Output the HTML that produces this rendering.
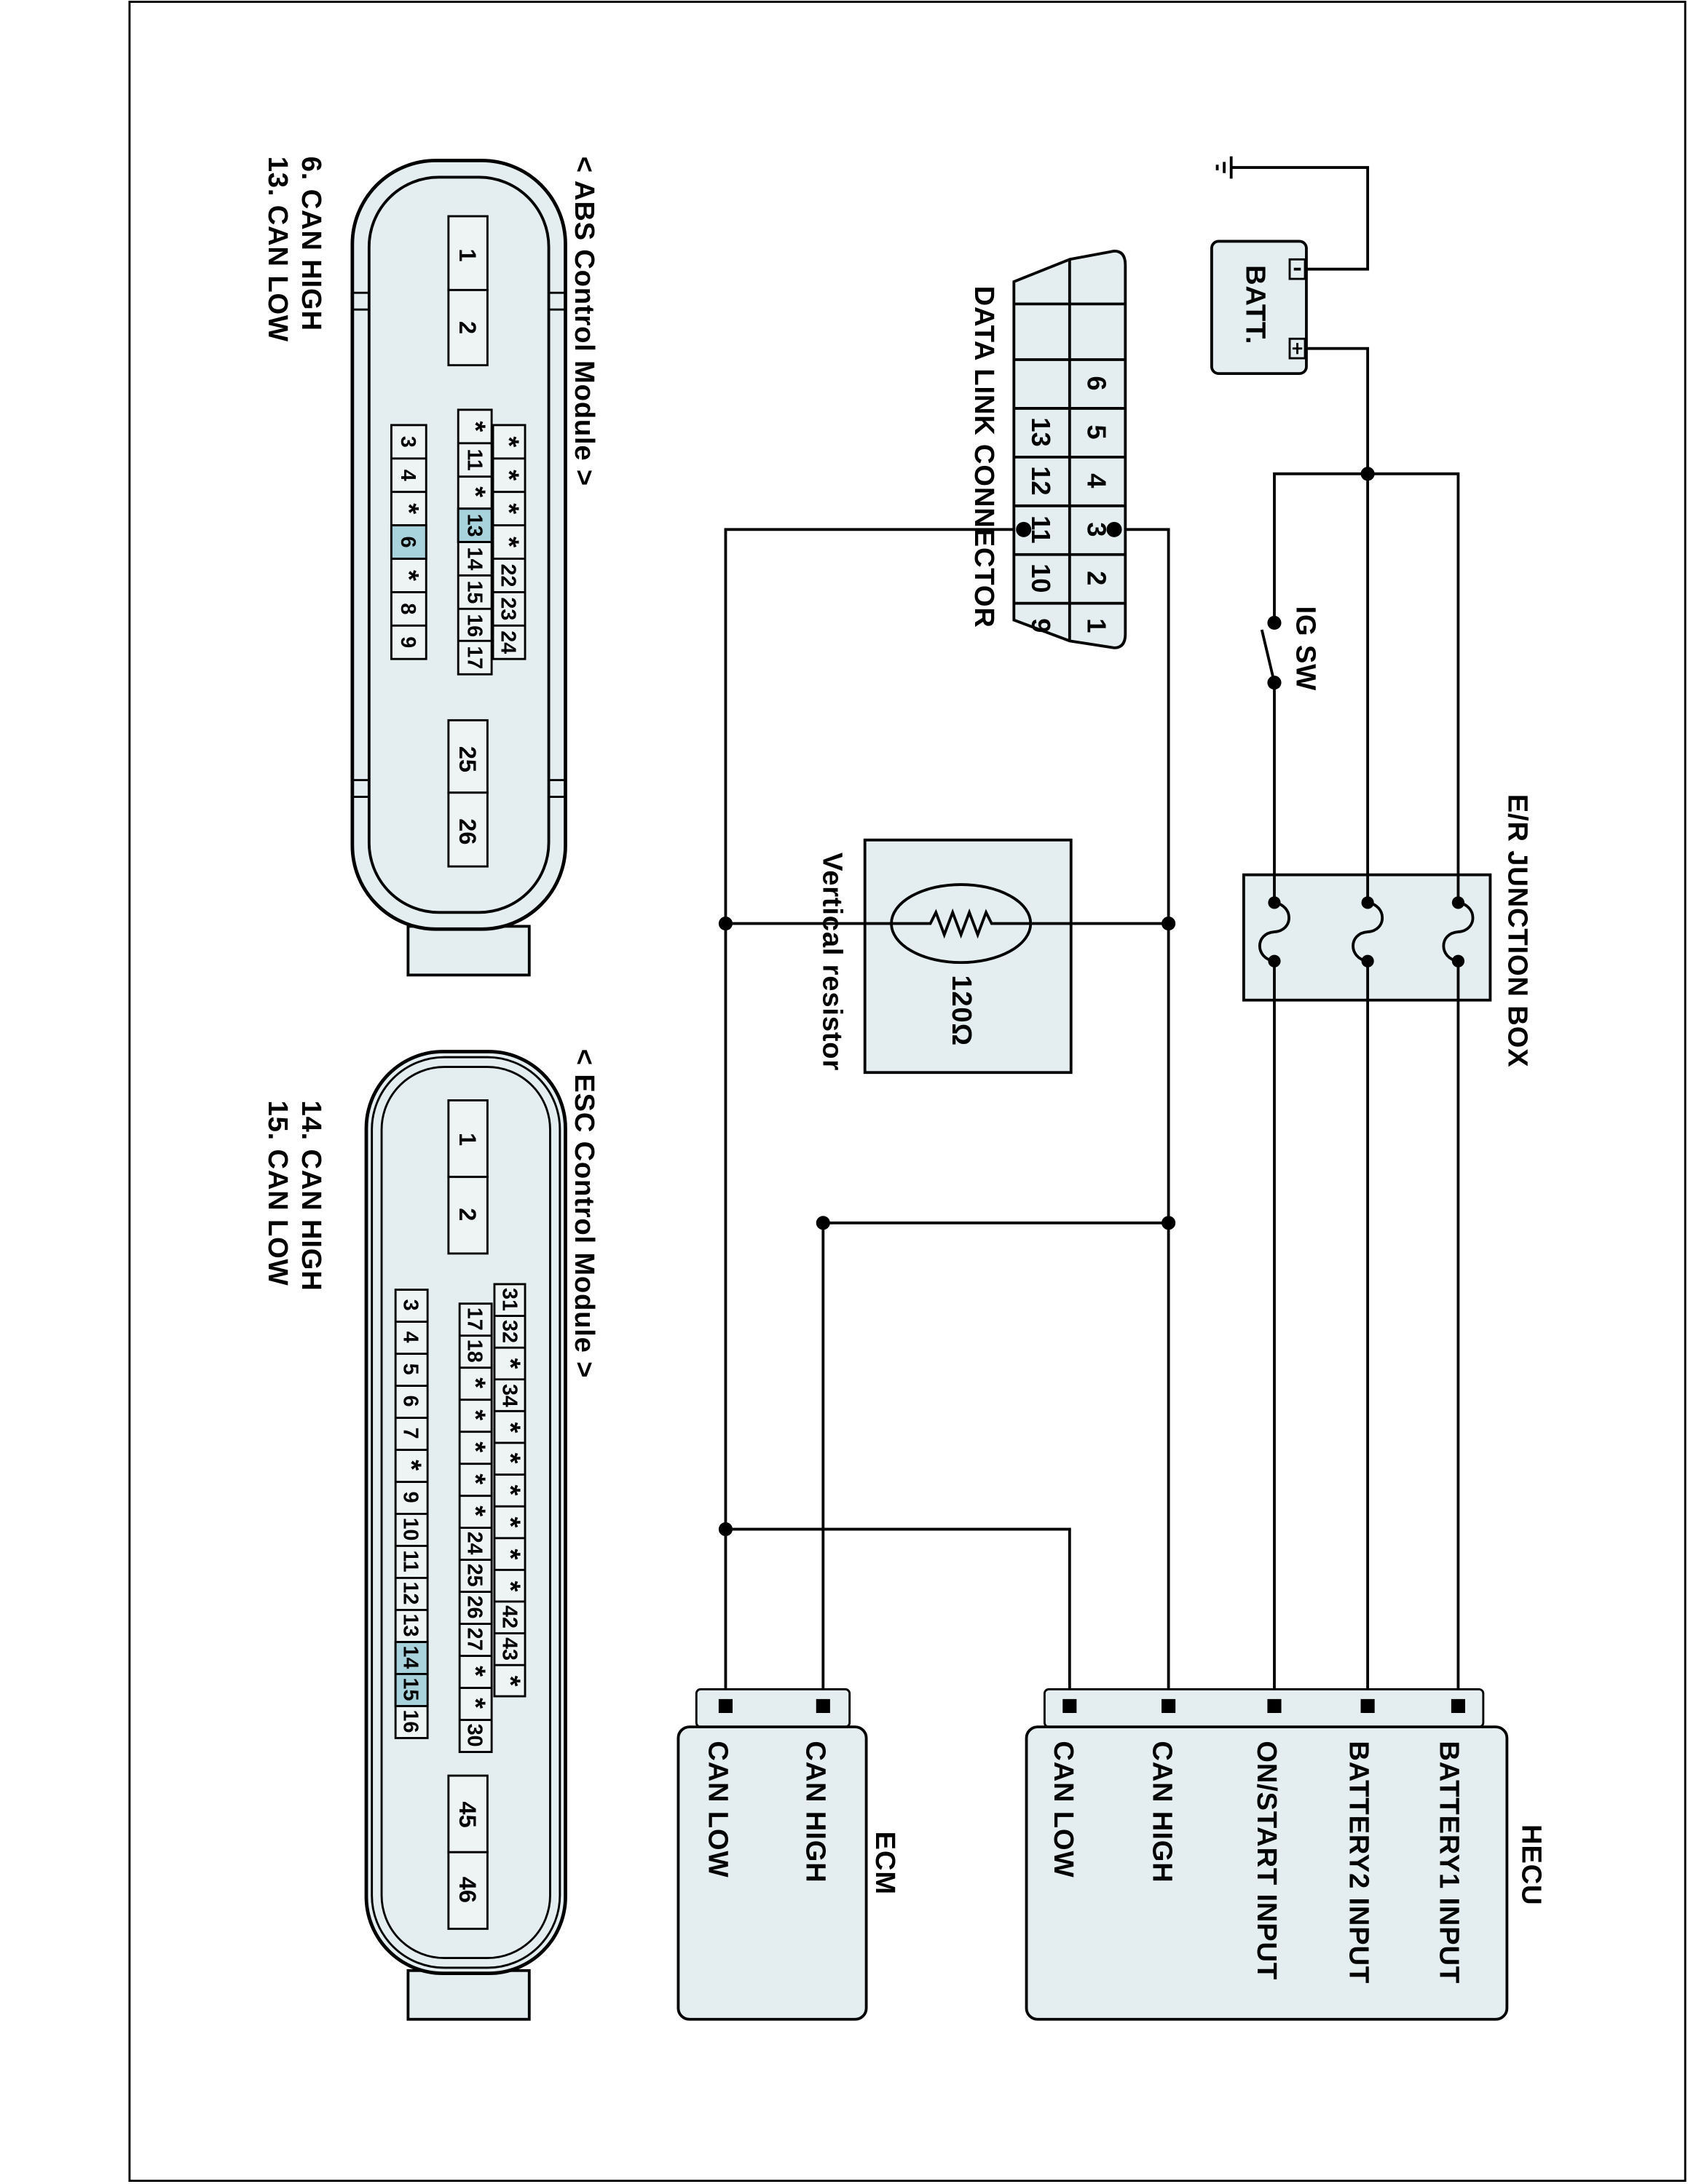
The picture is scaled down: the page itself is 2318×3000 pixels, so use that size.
<!DOCTYPE html>
<html><head><meta charset="utf-8"><style>
html,body{margin:0;padding:0;background:#fff;}
svg{display:block;}
text{font-family:"Liberation Sans",Arial,sans-serif;fill:#000;}
.lb{font-size:20px;font-weight:bold;letter-spacing:0.4px;}
.pn{font-size:15px;font-weight:bold;}
.big{font-size:17px;font-weight:bold;}
</style></head><body>
<svg width="2318" height="3000" viewBox="0 0 1212 1568" xmlns="http://www.w3.org/2000/svg">
<rect x="93" y="1" width="1117" height="1565" fill="none" stroke="#000" stroke-width="1.5"/>

<!-- ground & battery -->
<g stroke="#000" stroke-width="2" fill="none">
<line x1="884" y1="112" x2="884" y2="128"/>
<line x1="879" y1="116" x2="879" y2="124"/>
<line x1="874" y1="118" x2="874" y2="122"/>
<polyline points="884,120 982,120 982,193 937,193"/>
<polyline points="937,250 982,250 982,1225"/>
<polyline points="915,1225 915,490"/>
<line x1="915" y1="490" x2="906" y2="452"/>
<polyline points="915,447 915,340 1047,340 1047,1225"/>
</g>
<rect x="870" y="173" width="68" height="95" rx="5" fill="#e4eef0" stroke="#000" stroke-width="2"/>
<rect x="926" y="186" width="11" height="14" fill="#e4eef0" stroke="#000" stroke-width="1.5"/>
<rect x="926" y="243" width="11" height="14" fill="#e4eef0" stroke="#000" stroke-width="1.5"/>
<line x1="929" y1="193" x2="934" y2="193" stroke="#000" stroke-width="2"/>
<line x1="928" y1="250" x2="935" y2="250" stroke="#000" stroke-width="1.5"/><line x1="931.5" y1="246" x2="931.5" y2="254" stroke="#000" stroke-width="1.5"/>
<text class="lb" transform="translate(895,190) rotate(90)">BATT.</text>
<circle cx="982" cy="340" r="5"/>
<circle cx="915" cy="447" r="5"/><circle cx="915" cy="490" r="5"/>
<text class="lb" transform="translate(931,435) rotate(90)">IG SW</text>

<!-- junction box -->
<rect x="893" y="628" width="177" height="90" fill="#e4eef0" stroke="#000" stroke-width="2"/>
<g stroke="#000" stroke-width="2" fill="none">
<path d="M915,648 C929,650 929,668 915,669 C901,670 901,688 915,690"/>
<path d="M982,648 C996,650 996,668 982,669 C968,670 968,688 982,690"/>
<path d="M1047,648 C1061,650 1061,668 1047,669 C1033,670 1033,688 1047,690"/>
<line x1="915" y1="628" x2="915" y2="648"/><line x1="915" y1="690" x2="915" y2="718"/>
<line x1="982" y1="628" x2="982" y2="648"/><line x1="982" y1="690" x2="982" y2="718"/>
<line x1="1047" y1="628" x2="1047" y2="648"/><line x1="1047" y1="690" x2="1047" y2="718"/>
</g>
<circle cx="915" cy="648" r="4.5"/><circle cx="915" cy="690" r="4.5"/>
<circle cx="982" cy="648" r="4.5"/><circle cx="982" cy="690" r="4.5"/>
<circle cx="1047" cy="648" r="4.5"/><circle cx="1047" cy="690" r="4.5"/>
<text class="lb" transform="translate(1083,570) rotate(90)">E/R JUNCTION BOX</text>

<!-- CAN wiring -->
<g stroke="#000" stroke-width="2" fill="none">
<polyline points="800,380 839,380 839,1225"/>
<polyline points="735,380 521,380 521,1225"/>
<line x1="521" y1="663" x2="839" y2="663"/>
<polyline points="839,878 591,878 591,1225"/>
<polyline points="521,1098 768,1098 768,1225"/>
</g>
<circle cx="839" cy="663" r="5"/><circle cx="521" cy="663" r="5"/>
<circle cx="839" cy="878" r="5"/><circle cx="591" cy="878" r="5"/>
<circle cx="521" cy="1098" r="5"/>

<!-- resistor -->
<rect x="621" y="603" width="148" height="167" fill="#e4eef0" stroke="#000" stroke-width="2"/>
<line x1="621" y1="663" x2="769" y2="663" stroke="#000" stroke-width="2"/>
<ellipse cx="690" cy="663" rx="50" ry="28" fill="#e4eef0" stroke="#000" stroke-width="2"/>
<polyline points="640,663 668,663 672,655 678,671 684,655 690,671 696,655 702,671 708,655 712,663 740,663" fill="none" stroke="#000" stroke-width="2"/>
<text class="lb" transform="translate(684,700) rotate(90)">120Ω</text>
<text class="lb" transform="translate(591,612) rotate(90)">Vertical resistor</text>

<!-- DLC -->
<path d="M768,186 L800,180 Q808,180 808,190 L808,455 Q808,465 800,465 L768,460 L728,445 L728,202 Z" fill="#e4eef0" stroke="#000" stroke-width="2"/>
<g stroke="#000" stroke-width="2">
<line x1="768" y1="186" x2="768" y2="460"/>
<line x1="728" y1="218" x2="808" y2="218"/>
<line x1="728" y1="258" x2="808" y2="258"/>
<line x1="728" y1="293" x2="808" y2="293"/>
<line x1="728" y1="328" x2="808" y2="328"/>
<line x1="728" y1="363" x2="808" y2="363"/>
<line x1="728" y1="398" x2="808" y2="398"/>
<line x1="728" y1="433" x2="808" y2="433"/>
</g>
<g class="big" text-anchor="middle" style="font-size:19px">
<text transform="translate(781,275) rotate(90)">6</text>
<text transform="translate(781,310) rotate(90)">5</text>
<text transform="translate(781,345) rotate(90)">4</text>
<text transform="translate(781,380) rotate(90)">3</text>
<text transform="translate(781,415) rotate(90)">2</text>
<text transform="translate(781,449) rotate(90)">1</text>
<text transform="translate(741,310) rotate(90)">13</text>
<text transform="translate(741,345) rotate(90)">12</text>
<text transform="translate(741,380) rotate(90)">11</text>
<text transform="translate(741,415) rotate(90)">10</text>
<text transform="translate(741,449) rotate(90)">9</text>
</g>
<circle cx="800" cy="380" r="5.5"/><circle cx="735" cy="380" r="5.5"/>
<text class="lb" transform="translate(700,205) rotate(90)">DATA LINK CONNECTOR</text>

<!-- HECU -->
<rect x="750" y="1213" width="315" height="27" rx="3" fill="#e4eef0" stroke="#000" stroke-width="1.5"/>
<rect x="737" y="1240" width="345" height="210" rx="8" fill="#e4eef0" stroke="#000" stroke-width="2"/>
<rect x="763" y="1220" width="10" height="10"/><rect x="834" y="1220" width="10" height="10"/>
<rect x="910" y="1220" width="10" height="10"/><rect x="977" y="1220" width="10" height="10"/>
<rect x="1042" y="1220" width="10" height="10"/>
<text class="lb" transform="translate(1093,1310) rotate(90)">HECU</text>
<text class="lb" transform="translate(1034,1250) rotate(90)">BATTERY1 INPUT</text>
<text class="lb" transform="translate(969,1250) rotate(90)">BATTERY2 INPUT</text>
<text class="lb" transform="translate(903,1250) rotate(90)">ON/START INPUT</text>
<text class="lb" transform="translate(828,1250) rotate(90)">CAN HIGH</text>
<text class="lb" transform="translate(757,1250) rotate(90)">CAN LOW</text>

<!-- ECM -->
<rect x="500" y="1213" width="110" height="27" rx="3" fill="#e4eef0" stroke="#000" stroke-width="1.5"/>
<rect x="487" y="1240" width="135" height="210" rx="8" fill="#e4eef0" stroke="#000" stroke-width="2"/>
<rect x="516" y="1220" width="10" height="10"/><rect x="586" y="1220" width="10" height="10"/>
<text class="lb" transform="translate(629,1315) rotate(90)">ECM</text>
<text class="lb" transform="translate(579,1250) rotate(90)">CAN HIGH</text>
<text class="lb" transform="translate(509,1250) rotate(90)">CAN LOW</text>

<!-- ABS connector -->
<rect x="293" y="665" width="87" height="35" fill="#e4eef0" stroke="#000" stroke-width="2"/>
<rect x="253" y="115" width="153" height="552" rx="60" fill="#e4eef0" stroke="#000" stroke-width="2.5"/>
<rect x="265" y="127" width="129" height="528" rx="50" fill="none" stroke="#000" stroke-width="2"/>
<g stroke="#000" stroke-width="1.5">
<line x1="253" y1="210" x2="265" y2="210"/><line x1="253" y1="222" x2="265" y2="222"/>
<line x1="394" y1="210" x2="406" y2="210"/><line x1="394" y1="222" x2="406" y2="222"/>
<line x1="253" y1="560" x2="265" y2="560"/><line x1="253" y1="572" x2="265" y2="572"/>
<line x1="394" y1="560" x2="406" y2="560"/><line x1="394" y1="572" x2="406" y2="572"/>
</g>
<text class="lb" transform="translate(413,112) rotate(90)">&lt; ABS Control Module &gt;</text>
<text class="lb" transform="translate(217,112) rotate(90)">6. CAN HIGH</text>
<text class="lb" transform="translate(193,112) rotate(90)">13. CAN LOW</text>
<g fill="#eef3f4" stroke="#000" stroke-width="1.5">
<rect x="322" y="155" width="28" height="53"/><rect x="322" y="208" width="28" height="54"/>
<rect x="322" y="517" width="28" height="52"/><rect x="322" y="569" width="28" height="53"/>
<rect x="354" y="305" width="23" height="168"/>
<rect x="329" y="294" width="24" height="190"/>
<rect x="281" y="305" width="25" height="168"/>
<rect x="329" y="365" width="24" height="24" fill="#a9d3dc"/>
<rect x="281" y="377" width="25" height="24" fill="#a9d3dc"/>
<path d="M354,329H377M354,353H377M354,377H377M354,401H377M354,425H377M354,449H377"/>
<path d="M329,318H353M329,342H353M329,365H353M329,389H353M329,413H353M329,437H353M329,460H353"/>
<path d="M281,329H306M281,353H306M281,377H306M281,401H306M281,425H306M281,449H306"/>
</g>
<g class="big" text-anchor="middle">
<text transform="translate(330,183) rotate(90)">1</text>
<text transform="translate(330,235) rotate(90)">2</text>
<text transform="translate(330,545) rotate(90)">25</text>
<text transform="translate(330,597) rotate(90)">26</text>
</g>
<g class="pn" text-anchor="middle">
<text transform="translate(359,317) rotate(90)" style="font-size:20px">*</text>
<text transform="translate(359,341) rotate(90)" style="font-size:20px">*</text>
<text transform="translate(359,365) rotate(90)" style="font-size:20px">*</text>
<text transform="translate(359,389) rotate(90)" style="font-size:20px">*</text>
<text transform="translate(360,413) rotate(90)">22</text>
<text transform="translate(360,437) rotate(90)">23</text>
<text transform="translate(360,461) rotate(90)">24</text>
<text transform="translate(335,306) rotate(90)" style="font-size:20px">*</text>
<text transform="translate(336,330) rotate(90)">11</text>
<text transform="translate(335,353) rotate(90)" style="font-size:20px">*</text>
<text transform="translate(336,377) rotate(90)">13</text>
<text transform="translate(336,401) rotate(90)">14</text>
<text transform="translate(336,425) rotate(90)">15</text>
<text transform="translate(336,449) rotate(90)">16</text>
<text transform="translate(336,472) rotate(90)">17</text>
<text transform="translate(288,317) rotate(90)">3</text>
<text transform="translate(288,341) rotate(90)">4</text>
<text transform="translate(287,365) rotate(90)" style="font-size:20px">*</text>
<text transform="translate(288,389) rotate(90)">6</text>
<text transform="translate(287,413) rotate(90)" style="font-size:20px">*</text>
<text transform="translate(288,437) rotate(90)">8</text>
<text transform="translate(288,461) rotate(90)">9</text>
</g>

<!-- ESC connector -->
<rect x="293" y="1415" width="87" height="35" fill="#e4eef0" stroke="#000" stroke-width="2"/>
<rect x="263" y="755" width="143" height="662" rx="55" fill="#e4eef0" stroke="#000" stroke-width="2.5"/>
<rect x="267" y="759" width="135" height="654" rx="52" fill="none" stroke="#000" stroke-width="1.5"/>
<rect x="274" y="766" width="121" height="640" rx="45" fill="none" stroke="#000" stroke-width="1.5"/>
<text class="lb" transform="translate(413,753) rotate(90)">&lt; ESC Control Module &gt;</text>
<text class="lb" transform="translate(217,790) rotate(90)">14. CAN HIGH</text>
<text class="lb" transform="translate(193,790) rotate(90)">15. CAN LOW</text>
<g fill="#eef3f4" stroke="#000" stroke-width="1.5">
<rect x="322" y="790" width="28" height="55"/><rect x="322" y="845" width="28" height="55"/>
<rect x="322" y="1275" width="28" height="55"/><rect x="322" y="1330" width="28" height="55"/>
<rect x="355" y="922" width="22" height="296"/>
<rect x="330" y="936" width="23" height="322"/>
<rect x="284" y="926" width="23" height="322"/>
<rect x="284" y="1179" width="23" height="46" fill="#a9d3dc"/>
<path d="M355,944.8H377M355,967.6H377M355,990.4H377M355,1013.2H377M355,1036H377M355,1058.8H377M355,1081.6H377M355,1104.4H377M355,1127.2H377M355,1150H377M355,1172.8H377M355,1195.6H377"/>
<path d="M330,959H353M330,982H353M330,1005H353M330,1028H353M330,1051H353M330,1074H353M330,1097H353M330,1120H353M330,1143H353M330,1166H353M330,1189H353M330,1212H353M330,1235H353"/>
<path d="M284,949H307M284,972H307M284,995H307M284,1018H307M284,1041H307M284,1064H307M284,1087H307M284,1110H307M284,1133H307M284,1156H307M284,1179H307M284,1202H307M284,1225H307"/>
</g>
<g class="big" text-anchor="middle">
<text transform="translate(330,818) rotate(90)">1</text>
<text transform="translate(330,872) rotate(90)">2</text>
<text transform="translate(330,1303) rotate(90)">45</text>
<text transform="translate(330,1357) rotate(90)">46</text>
</g>
<g class="pn" text-anchor="middle">
<text transform="translate(361,933) rotate(90)">31</text>
<text transform="translate(361,956) rotate(90)">32</text>
<text transform="translate(360,979) rotate(90)" style="font-size:20px">*</text>
<text transform="translate(361,1002) rotate(90)">34</text>
<text transform="translate(360,1025) rotate(90)" style="font-size:20px">*</text>
<text transform="translate(360,1047) rotate(90)" style="font-size:20px">*</text>
<text transform="translate(360,1070) rotate(90)" style="font-size:20px">*</text>
<text transform="translate(360,1093) rotate(90)" style="font-size:20px">*</text>
<text transform="translate(360,1116) rotate(90)" style="font-size:20px">*</text>
<text transform="translate(360,1139) rotate(90)" style="font-size:20px">*</text>
<text transform="translate(361,1161) rotate(90)">42</text>
<text transform="translate(361,1184) rotate(90)">43</text>
<text transform="translate(360,1207) rotate(90)" style="font-size:20px">*</text>
<text transform="translate(336,947) rotate(90)">17</text>
<text transform="translate(336,970) rotate(90)">18</text>
<text transform="translate(335,993) rotate(90)" style="font-size:20px">*</text>
<text transform="translate(335,1016) rotate(90)" style="font-size:20px">*</text>
<text transform="translate(335,1039) rotate(90)" style="font-size:20px">*</text>
<text transform="translate(335,1062) rotate(90)" style="font-size:20px">*</text>
<text transform="translate(335,1085) rotate(90)" style="font-size:20px">*</text>
<text transform="translate(336,1108) rotate(90)">24</text>
<text transform="translate(336,1131) rotate(90)">25</text>
<text transform="translate(336,1154) rotate(90)">26</text>
<text transform="translate(336,1177) rotate(90)">27</text>
<text transform="translate(335,1200) rotate(90)" style="font-size:20px">*</text>
<text transform="translate(335,1223) rotate(90)" style="font-size:20px">*</text>
<text transform="translate(336,1246) rotate(90)">30</text>
<text transform="translate(290,937) rotate(90)">3</text>
<text transform="translate(290,960) rotate(90)">4</text>
<text transform="translate(290,983) rotate(90)">5</text>
<text transform="translate(290,1006) rotate(90)">6</text>
<text transform="translate(290,1029) rotate(90)">7</text>
<text transform="translate(289,1052) rotate(90)" style="font-size:20px">*</text>
<text transform="translate(290,1075) rotate(90)">9</text>
<text transform="translate(290,1098) rotate(90)">10</text>
<text transform="translate(290,1121) rotate(90)">11</text>
<text transform="translate(290,1144) rotate(90)">12</text>
<text transform="translate(290,1167) rotate(90)">13</text>
<text transform="translate(290,1190) rotate(90)">14</text>
<text transform="translate(290,1213) rotate(90)">15</text>
<text transform="translate(290,1236) rotate(90)">16</text>
</g>
</svg>
</body></html>
